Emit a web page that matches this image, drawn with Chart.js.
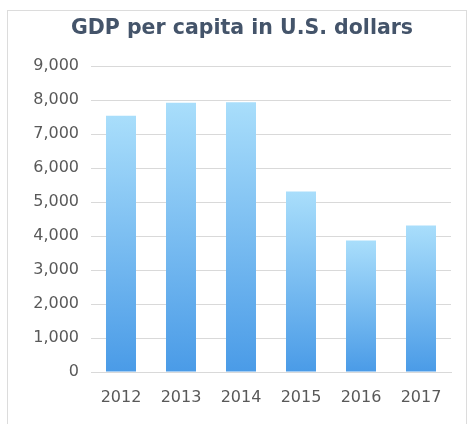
<!DOCTYPE html>
<html>
<head>
<meta charset="utf-8">
<script src="https://cdn.jsdelivr.net/npm/chart.js@4/dist/chart.umd.min.js"></script>
<style>
    html, body { margin: 0; padding: 0; background: #fff; }
    #wrap { position: relative; width: 470px; height: 424px; overflow: hidden; }
    #frame {
        position: absolute; left: 7px; top: 10px; width: 460px; height: 440px;
        border: 1px solid #dcdcdc; box-sizing: border-box;
    }
    #chart { position: absolute; left: 0; top: 0; }
</style>
</head>
<body>
<div id="wrap">
    <div id="frame"></div>
    <canvas id="chart" width="470" height="424"></canvas>
</div>
<script>
const years = ['2012', '2013', '2014', '2015', '2016', '2017'];
const gdpPerCapita = [7540, 7920, 7940, 5310, 3870, 4310];
const yMax = 9000;
const yStep = 1000;

const tickFont = { family: '"DejaVu Sans"', size: 16 };
const tickColor = '#595959';
const gridColor = '#d9d9d9';

// vertical gradient per bar, from its top down to the zero line
function barGradient(c) {
    const chart = c.chart;
    const y = chart.scales.y;
    if (!y || c.raw === undefined) return '#74bdf2';
    const top = y.getPixelForValue(c.raw);
    const base = y.getPixelForValue(0);
    if (!isFinite(top) || !isFinite(base)) return '#74bdf2';
    const g = chart.ctx.createLinearGradient(0, top, 0, base);
    g.addColorStop(0, '#a9defb');
    g.addColorStop(1, '#4a9be7');
    return g;
}

new Chart(document.getElementById('chart'), {
    type: 'bar',
    data: {
        labels: years,
        datasets: [{
            label: 'GDP per capita',
            data: gdpPerCapita,
            backgroundColor: barGradient,
            barPercentage: 0.5,
            categoryPercentage: 1
        }]
    },
    options: {
        responsive: false,
        animation: false,
        layout: { padding: { left: 33, right: 19, top: 0, bottom: 0 } },
        plugins: {
            legend: { display: false },
            tooltip: { enabled: false },
            title: {
                display: true,
                text: 'GDP per capita in U.S. dollars',
                color: '#44546a',
                font: { family: '"DejaVu Sans"', size: 20.5, weight: 'bold', lineHeight: 1.2 },
                padding: { top: 16.5, bottom: 25 }
            }
        },
        scales: {
            x: {
                afterFit: s => { s.height = 52; },
                grid: { display: false, drawTicks: false },
                border: { display: true, color: gridColor },
                ticks: { color: tickColor, font: tickFont, padding: 16 }
            },
            y: {
                min: 0,
                max: yMax,
                afterFit: s => { s.width = 58; },
                grid: { color: gridColor, drawTicks: false },
                border: { display: false },
                ticks: { stepSize: yStep, color: tickColor, font: tickFont, padding: 12 }
            }
        }
    }
});
</script>
</body>
</html>
